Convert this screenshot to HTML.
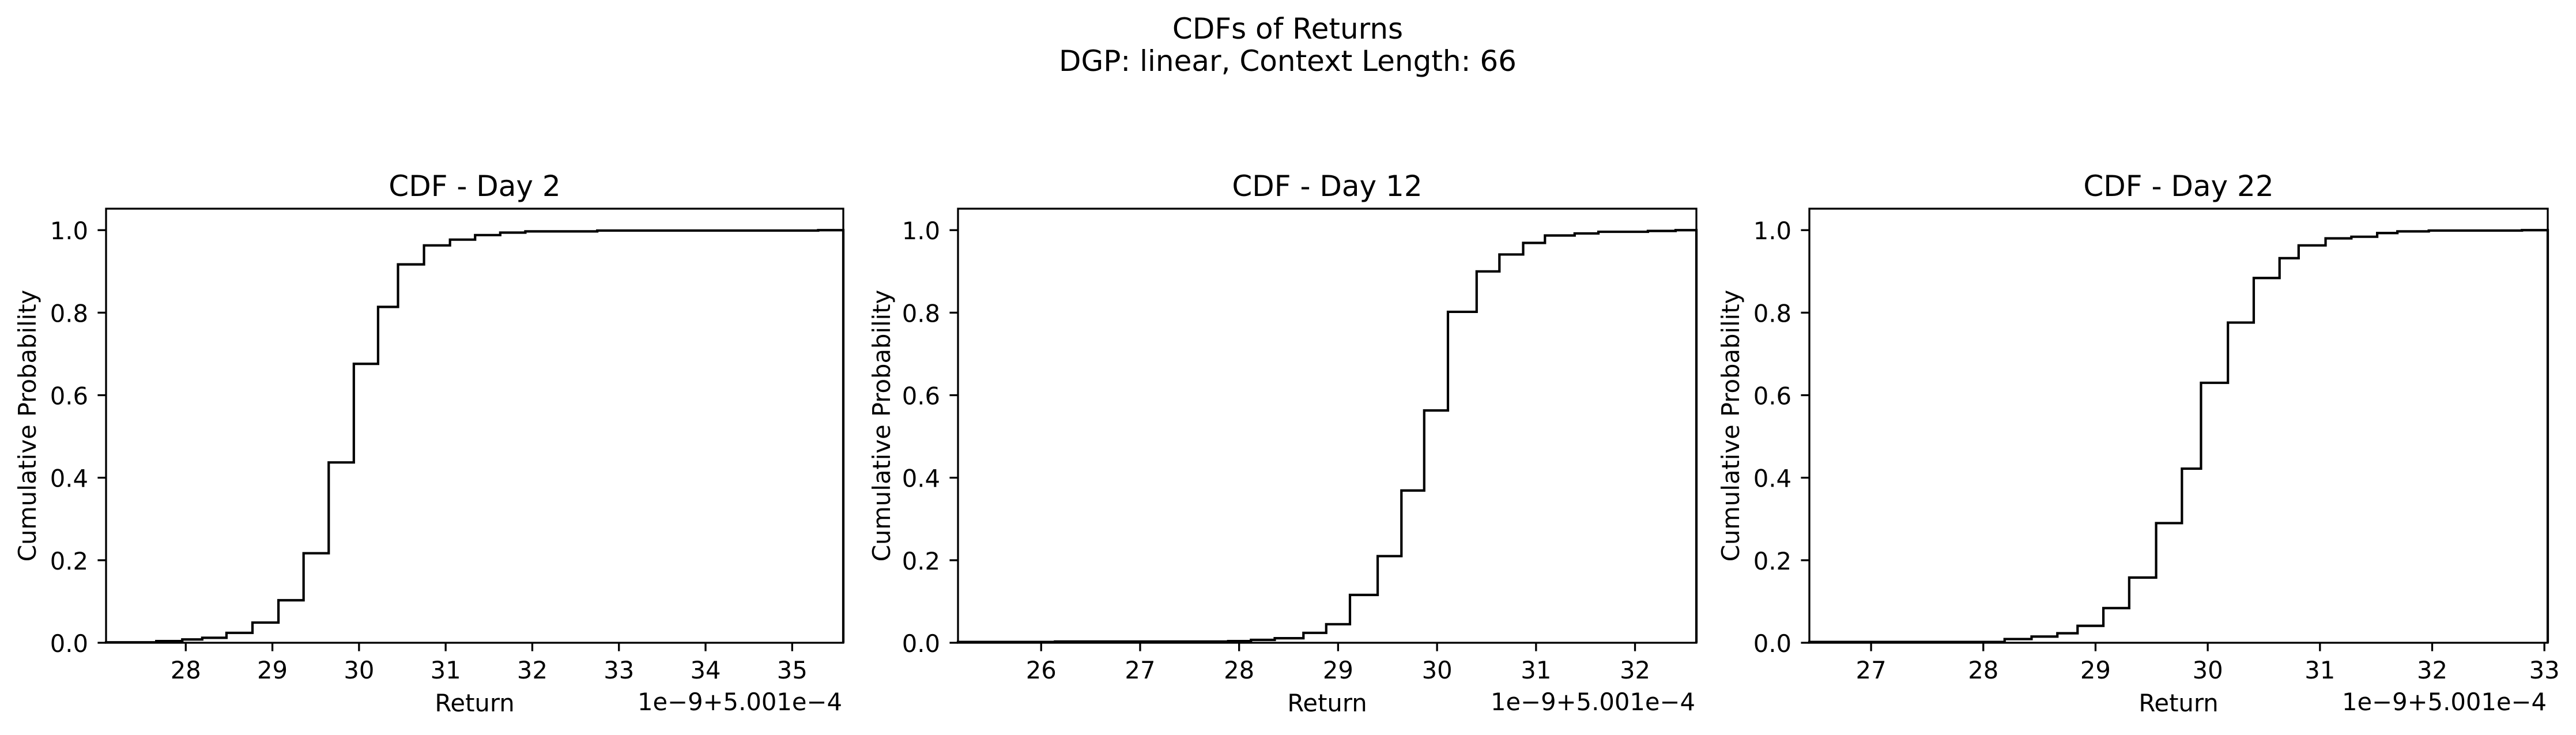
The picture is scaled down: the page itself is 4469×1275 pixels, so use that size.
<!DOCTYPE html>
<html><head><meta charset="utf-8"><style>
html,body{margin:0;padding:0;background:#fff;}
svg{display:block;}
text{font-family:"DejaVu Sans","Liberation Sans",sans-serif;fill:#000;}
</style></head><body>
<svg id="fig" width="4469" height="1275" viewBox="0 0 4469 1275" xmlns="http://www.w3.org/2000/svg">
<rect width="4469" height="1275" fill="#fff"/>
<text x="2234" y="67" font-size="50" text-anchor="middle">CDFs of Returns</text>
<text x="2234" y="123" font-size="50" text-anchor="middle">DGP: linear, Context Length: 66</text>
</svg>
<script>
// Panel data: step edges (return, units of 1e-9 offset) and cumulative values
const titles = ["CDF - Day 2", "CDF - Day 12", "CDF - Day 22"];
const edges1 = [27.08,27.66,27.96,28.19,28.47,28.77,29.07,29.36,29.65,29.94,30.22,30.45,30.75,31.05,31.34,31.63,31.92,32.75,35.3,35.59];
const cdf1 = [0.001,0.004,0.008,0.012,0.024,0.049,0.103,0.217,0.437,0.676,0.814,0.917,0.963,0.977,0.988,0.994,0.997,0.999,1.0];
const edges2 = [25.16,26.14,27.89,28.12,28.36,28.65,28.88,29.12,29.40,29.64,29.87,30.11,30.40,30.63,30.87,31.09,31.39,31.63,32.13,32.41,32.62];
const cdf2 = [0.002,0.003,0.004,0.007,0.011,0.024,0.045,0.116,0.210,0.369,0.563,0.802,0.900,0.941,0.969,0.987,0.992,0.996,0.998,1.0];
const edges3 = [26.45,28.19,28.43,28.66,28.84,29.07,29.30,29.54,29.77,29.94,30.18,30.41,30.64,30.81,31.05,31.28,31.51,31.69,31.97,32.80,33.03];
const cdf3 = [0.002,0.009,0.015,0.023,0.041,0.084,0.158,0.290,0.422,0.630,0.776,0.884,0.932,0.963,0.980,0.984,0.993,0.997,0.999,1.0];
const xticks1 = [28,29,30,31,32,33,34,35];
const xticks2 = [26,27,28,29,30,31,32];
const xticks3 = [27,28,29,30,31,32,33];
const yticks = [0.0,0.2,0.4,0.6,0.8,1.0];
const xlims = [[27.08,35.59],[25.16,32.62],[26.45,33.03]];
const ylim = [0, 1.052];

const NS = "http://www.w3.org/2000/svg";
const svg = document.getElementById("fig");
function mk(tag, attrs, parent){
  const e = document.createElementNS(NS, tag);
  for (const k in attrs) e.setAttribute(k, attrs[k]);
  (parent||svg).appendChild(e);
  return e;
}
const boxes = [{l:184,r:1463},{l:1662,r:2943},{l:3139,r:4420}];
const axTop = 362, axBot = 1115;
const ylabX = [48,1530,3003];
const panels = [[edges1,cdf1,xticks1],[edges2,cdf2,xticks2],[edges3,cdf3,xticks3]];

panels.forEach((p, i) => {
  const [edges, cdf, xt] = p;
  const b = boxes[i];
  const xs = v => b.l + (v - xlims[i][0]) / (xlims[i][1] - xlims[i][0]) * (b.r - b.l);
  const ys = v => axBot - (v - ylim[0]) / (ylim[1] - ylim[0]) * (axBot - axTop);
  const g = mk("g", {});
  
  

  let d = "M" + xs(edges[0]) + "," + ys(0);
  for (let k = 0; k < cdf.length; k++) {
    d += " L" + xs(edges[k]) + "," + ys(cdf[k]) + " L" + xs(edges[k+1]) + "," + ys(cdf[k]);
  }
  d += " L" + xs(edges[edges.length-1]) + "," + ys(0);
  const path = mk("path", {d:d, fill:"none", stroke:"#000", "stroke-width":4.2, "stroke-linejoin":"miter"}, g);
  
  

  const fr = mk("rect", {x:b.l, y:axTop, width:b.r-b.l, height:axBot-axTop, fill:"none", stroke:"#000", "stroke-width":3.3}, g);
  
  

  xt.forEach(v => {
    const x = xs(v);
    const t = mk("line", {x1:x, x2:x, y1:axBot, y2:axBot+14.6, stroke:"#000", "stroke-width":3.3}, g);
    
    
    const tl = mk("text", {x:x, y:axBot+62, "font-size":41.7, "text-anchor":"middle"}, g);
    tl.textContent = String(v);
    
    
  });
  yticks.forEach(v => {
    const y = ys(v);
    const t = mk("line", {x1:b.l-14.6, x2:b.l, y1:y, y2:y, stroke:"#000", "stroke-width":3.3}, g);
    
    
    const tl = mk("text", {x:b.l-31, y:y+16, "font-size":41.7, "text-anchor":"end"}, g);
    tl.textContent = v.toFixed(1);
    
    
  });
  const ti = mk("text", {x:(b.l+b.r)/2, y:axTop-22, "font-size":50, "text-anchor":"middle"}, g);
  ti.textContent = titles[i];
  
  
  const xl = mk("text", {x:(b.l+b.r)/2, y:1234, "font-size":41.7, "text-anchor":"middle"}, g);
  xl.textContent = "Return";
  
  
  const ot = mk("text", {x:b.r-2, y:1232, "font-size":41.7, "text-anchor":"end"}, g);
  ot.textContent = "1e\u22129+5.001e\u22124";
  
  
  const yl = mk("text", {x:0, y:0, "font-size":41.7, "text-anchor":"middle", transform:"translate(" + (ylabX[i]+14) + "," + ((axTop+axBot)/2) + ") rotate(-90)"}, g);
  yl.textContent = "Cumulative Probability";
  
  
});
</script>
</body></html>
